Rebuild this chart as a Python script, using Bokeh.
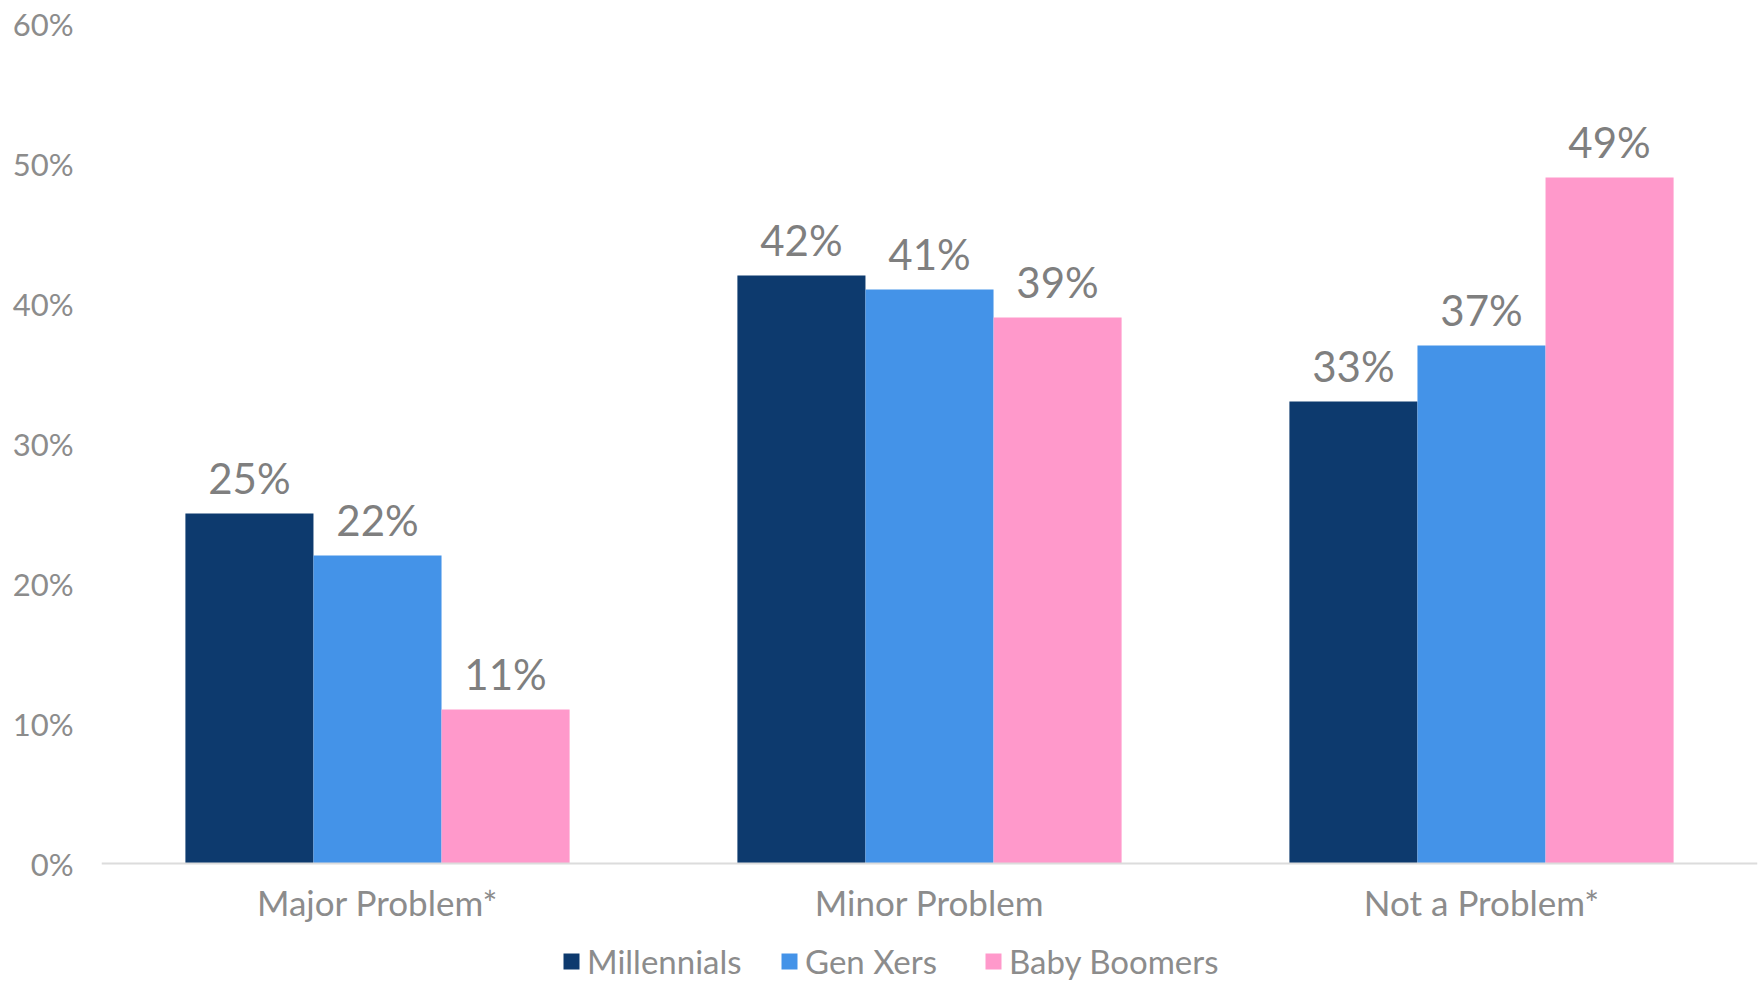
from bokeh.plotting import figure
from bokeh.models import (ColumnDataSource, Range1d, FixedTicker, PrintfTickFormatter,
                          Legend, LegendItem, Span)
from bokeh.transform import dodge
from bokeh.core.properties import value
from bokeh.embed import file_html
from bokeh.resources import INLINE

categories = ["Major Problem*", "Minor Problem", "Not a Problem*"]
series_names = ["Millennials", "Gen Xers", "Baby Boomers"]
millennials = [25, 42, 33]
gen_xers = [22, 41, 37]
baby_boomers = [11, 39, 49]
y_ticks = [0, 10, 20, 30, 40, 50, 60]

colors = ["#0d3a6e", "#4493e8", "#ff99cb"]
FONT = "Lato"

src = ColumnDataSource(dict(
    cat=categories,
    m=millennials, g=gen_xers, b=baby_boomers,
    ml=[f"{v}%" for v in millennials],
    gl=[f"{v}%" for v in gen_xers],
    bl=[f"{v}%" for v in baby_boomers],
))

# frame extends below the zero line to hold category labels and legend
p = figure(x_range=categories, y_range=Range1d(-8.5, 60),
           width=1760, height=982, output_backend="svg", toolbar_location=None,
           min_border_left=101, min_border_right=3, min_border_top=23, min_border_bottom=0)
p.outline_line_color = None
p.background_fill_color = "white"
p.border_fill_color = "white"
p.xgrid.grid_line_color = None
p.ygrid.grid_line_color = None

bw = 0.232
offs = [-bw, 0.0, bw]
keys = ["m", "g", "b"]
lkeys = ["ml", "gl", "bl"]
renderers = []
for k, lk, off, c in zip(keys, lkeys, offs, colors):
    r = p.vbar(x=dodge("cat", off, range=p.x_range), top=k, width=bw, source=src,
               fill_color=c, line_color=None)
    renderers.append(r)
    p.text(x=dodge("cat", off, range=p.x_range), y=k, text=lk, source=src,
           text_align="center", text_baseline="alphabetic", y_offset=-36,
           text_font=value(FONT), text_font_size="42px", text_color="#7f7f7f")

# baseline (category axis line)
p.add_layout(Span(location=0, dimension="width", line_color="#dcdcdc", line_width=2))

# category labels
p.text(x="cat", y=0, text="cat", source=src, text_align="center",
       text_baseline="alphabetic", y_offset=38,
       text_font=value(FONT), text_font_size="35px", text_color="#8c8c8c")

# y axis
p.yaxis.ticker = FixedTicker(ticks=y_ticks)
p.yaxis.formatter = PrintfTickFormatter(format="%d%%")
p.yaxis.axis_line_color = None
p.yaxis.major_tick_line_color = None
p.yaxis.minor_tick_line_color = None
p.yaxis.major_label_text_font = FONT
p.yaxis.major_label_text_font_size = "31px"
p.yaxis.major_label_text_color = "#8c8c8c"
p.yaxis.major_label_standoff = 22

p.xaxis.visible = False

# legends, one per item
leg_x = [460, 678, 882]
for name, r, lx in zip(series_names, renderers, leg_x):
    lg = Legend(items=[LegendItem(label=name, renderers=[r])],
                location=(lx, 1), orientation="horizontal",
                glyph_width=20, glyph_height=20, label_standoff=6,
                padding=0, margin=0, spacing=0,
                border_line_color=None, background_fill_alpha=0,
                label_text_font=FONT, label_text_font_size="33px",
                label_text_color="#8c8c8c")
    p.add_layout(lg, "center")

open("out.html", "w").write(file_html(p, INLINE))
